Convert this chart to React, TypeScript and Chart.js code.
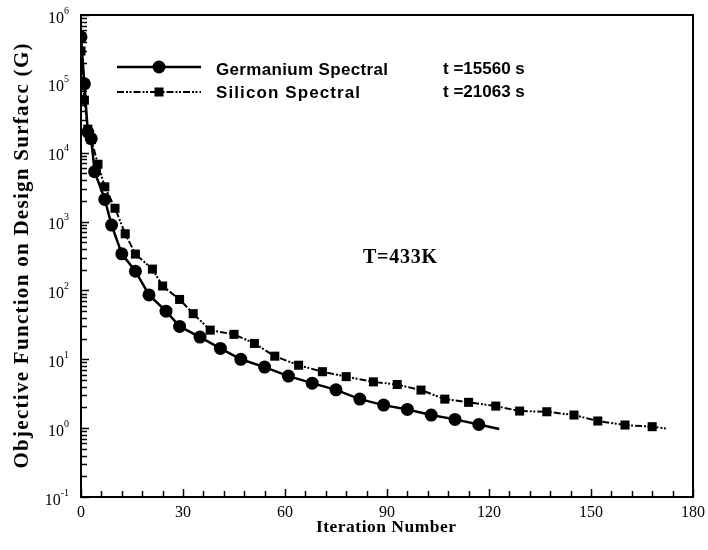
import React, { useEffect, useRef } from "react";
import { Chart, registerables } from "chart.js";

Chart.register(...registerables);

// Germanium Spectral (circles)
const GE_X = [0, 1, 2, 3, 4, 7, 9, 12, 16, 20, 25, 29, 35, 41, 47, 54, 61, 68, 75, 82, 89, 96, 103, 110, 117, 123];
const GE_Y = [4.8e5, 1e5, 2e4, 1.6e4, 5.3e3, 2.1e3, 890, 340, 190, 86, 50, 30, 21, 14.4, 10, 7.7, 5.7, 4.5, 3.6, 2.64, 2.16, 1.87, 1.55, 1.34, 1.13, 0.97];
// Silicon Spectral (squares)
const SI_X = [0, 1, 2, 3, 5, 7, 10, 13, 16, 21, 24, 29, 33, 38, 45, 51, 57, 64, 71, 78, 86, 93, 100, 107, 114, 122, 129, 137, 145, 152, 160, 168, 172];
const SI_Y = [3e5, 5.8e4, 2.2e4, 1.55e4, 6.8e3, 3.2e3, 1.56e3, 665, 337, 204, 116, 74, 46, 26.5, 23, 17, 11.1, 8.2, 6.6, 5.6, 4.7, 4.3, 3.57, 2.64, 2.37, 2.09, 1.77, 1.73, 1.55, 1.27, 1.11, 1.05, 0.99];

const X_LABELS = [0, 30, 60, 90, 120, 150, 180];
const X_MINOR_STEP = 6;
const Y_EXPONENTS = [-1, 0, 1, 2, 3, 4, 5, 6];

const SERIES_NAMES = ["Germanium Spectral", "Silicon Spectral"];
const TIME_LABELS = ["t =15560 s", "t =21063 s"];
const TEMP_LABEL = "T=433K";
const X_TITLE = "Iteration Number";
const Y_TITLE = "Objective Function on Design Surfacc (G)";

const SI_DASH = [7, 2, 2, 1.5, 2, 2];

const SERIF = '"Liberation Serif", "Times New Roman", serif';
const SANS = '"Liberation Sans", Arial, sans-serif';

// draw text with extra spacing between characters so that it spans `target` px
function spacedText(ctx: CanvasRenderingContext2D, text: string, cx: number, y: number, target: number) {
  const chars = Array.from(text);
  const widths = chars.map((c) => ctx.measureText(c).width);
  const natural = widths.reduce((a, b) => a + b, 0);
  const gap = chars.length > 1 ? Math.max(0, (target - natural) / (chars.length - 1)) : 0;
  const total = natural + gap * (chars.length - 1);
  let x = cx - total / 2;
  ctx.textAlign = "left";
  chars.forEach((c, i) => {
    ctx.fillText(c, x, y);
    x += widths[i] + gap;
  });
}

const decor = {
  id: "decor",
  afterDraw(chart: any) {
    const { ctx, chartArea } = chart;
    const { left, right, top, bottom } = chartArea;
    const xs = chart.scales.x;
    const ys = chart.scales.y;
    ctx.save();
    ctx.strokeStyle = "#000";
    ctx.fillStyle = "#000";

    // frame
    ctx.lineWidth = 2;
    ctx.strokeRect(left, top, right - left, bottom - top);

    // x ticks (inward)
    ctx.lineWidth = 1.5;
    for (let v = 0; v <= 180; v += X_MINOR_STEP) {
      const px = Math.round(xs.getPixelForValue(v)) + 0.5;
      const len = v % 30 === 0 ? 8 : 6;
      ctx.beginPath();
      ctx.moveTo(px, bottom);
      ctx.lineTo(px, bottom - len);
      ctx.stroke();
    }
    // y ticks (inward)
    for (const k of Y_EXPONENTS) {
      const ms = k === 6 ? [1] : [1, 2, 3, 4, 5, 6, 7, 8, 9];
      for (const m of ms) {
        const py = Math.round(ys.getPixelForValue(m * Math.pow(10, k))) + 0.5;
        const len = m === 1 ? 8 : 6;
        ctx.beginPath();
        ctx.moveTo(left, py);
        ctx.lineTo(left + len, py);
        ctx.stroke();
      }
    }

    // x tick labels
    ctx.font = `16px ${SERIF}`;
    ctx.textAlign = "center";
    ctx.textBaseline = "alphabetic";
    for (const v of X_LABELS) {
      ctx.fillText(String(v), xs.getPixelForValue(v), bottom + 20);
    }

    // y tick labels with superscript
    for (const k of Y_EXPONENTS) {
      const py = ys.getPixelForValue(Math.pow(10, k));
      ctx.font = `10px ${SERIF}`;
      const sup = String(k);
      const wSup = ctx.measureText(sup).width;
      ctx.font = `16px ${SERIF}`;
      const wBase = ctx.measureText("10").width;
      const rightEdge = left - 12;
      ctx.textAlign = "left";
      ctx.fillText("10", rightEdge - wSup - wBase, py + 7.5);
      ctx.font = `10px ${SERIF}`;
      ctx.fillText(sup, rightEdge - wSup, py - 1.5);
    }

    // axis titles
    ctx.font = `bold 17.5px ${SERIF}`;
    spacedText(ctx, X_TITLE, 386, 532, 140);

    ctx.save();
    ctx.translate(28, 256);
    ctx.rotate(-Math.PI / 2);
    ctx.font = `bold 21px ${SERIF}`;
    spacedText(ctx, Y_TITLE, 0, 0, 425);
    ctx.restore();

    // temperature annotation
    ctx.font = `bold 20px ${SERIF}`;
    spacedText(ctx, TEMP_LABEL, 400, 263, 74);

    // legend
    const rows = [67, 92];
    for (let i = 0; i < 2; i++) {
      const y = rows[i];
      ctx.lineWidth = i === 0 ? 2.5 : 2;
      ctx.setLineDash(i === 0 ? [] : SI_DASH);
      ctx.beginPath();
      ctx.moveTo(117, y);
      ctx.lineTo(201, y);
      ctx.stroke();
      ctx.setLineDash([]);
      ctx.beginPath();
      if (i === 0) {
        ctx.arc(159, y, 6.5, 0, Math.PI * 2);
        ctx.fill();
      } else {
        ctx.fillRect(154.5, y - 4.5, 9, 9);
      }
      ctx.font = `bold 17px ${SANS}`;
      const name = SERIES_NAMES[i];
      const nameW = i === 0 ? 172 : 144;
      spacedText(ctx, name, 216 + nameW / 2, i === 0 ? 75 : 98, nameW);
      ctx.textAlign = "left";
      ctx.fillText(TIME_LABELS[i], 443, i === 0 ? 74 : 97);
    }

    ctx.restore();
  },
};

export default function App() {
  const ref = useRef<HTMLCanvasElement | null>(null);
  useEffect(() => {
    if (!ref.current) return;
    const chart = new Chart(ref.current, {
      type: "line",
      data: {
        datasets: [
          {
            label: SERIES_NAMES[0],
            data: GE_X.map((x, i) => ({ x, y: GE_Y[i] })),
            borderColor: "#000",
            backgroundColor: "#000",
            borderWidth: 2.5,
            pointStyle: "circle",
            pointRadius: GE_X.map((_, i) => (i === GE_X.length - 1 ? 0 : 6.5)),
            pointBorderWidth: 0,
            tension: 0,
          },
          {
            label: SERIES_NAMES[1],
            data: SI_X.map((x, i) => ({ x, y: SI_Y[i] })),
            borderColor: "#000",
            backgroundColor: "#000",
            borderWidth: 2,
            borderDash: SI_DASH,
            pointStyle: "rect",
            pointRadius: SI_X.map((_, i) => (i === SI_X.length - 1 ? 0 : 6.4)),
            pointBorderWidth: 0,
            tension: 0,
          },
        ],
      },
      options: {
        animation: false,
        responsive: false,
        layout: { padding: { left: 81, top: 15, right: 15, bottom: 53 } },
        plugins: { legend: { display: false }, tooltip: { enabled: false } },
        scales: {
          x: { type: "linear", min: 0, max: 180, display: false },
          y: { type: "logarithmic", min: 0.1, max: 1e6, display: false },
        },
      },
      plugins: [decor],
    });
    return () => chart.destroy();
  }, []);
  return (
    <div style={{ position: "absolute", left: 0, top: 0, width: 708, height: 550, background: "#fff" }}>
      <canvas ref={ref} width={708} height={550} />
    </div>
  );
}
